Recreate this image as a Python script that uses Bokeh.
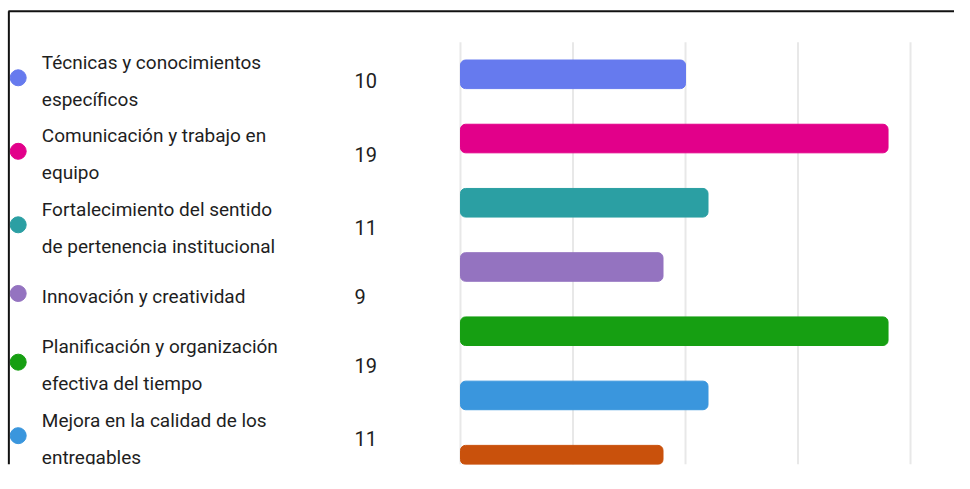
from bokeh.plotting import figure
from bokeh.models import Range1d, ColumnDataSource
from bokeh.core.properties import value
from bokeh.embed import file_html
from bokeh.resources import INLINE

# ---- data ----
labels = [
    "Técnicas y conocimientos\nespecíficos",
    "Comunicación y trabajo en\nequipo",
    "Fortalecimiento del sentido\nde pertenencia institucional",
    "Innovación y creatividad",
    "Planificación y organización\nefectiva del tiempo",
    "Mejora en la calidad de los\nentregables",
]
counts = [10, 19, 11, 9, 19, 11, 9]
colors = ["#667aee", "#e2008a", "#2b9fa3", "#9473c0", "#169f12", "#3a96dd", "#c9510c"]
ticks = [0, 5, 10, 15, 20]

# ---- layout (reference pixels scaled into the figure) ----
W, H = 954, 473
FS_X, FS_Y = W / 970, H / 489
FRAME_H = 464
KX = 22.88 * FS_X          # px per unit
KY = 66.4 * FS_Y           # px per category
ZERO_PX = 467.7 * FS_X     # pixel of value 0
TOP_Y = -(76.3 * FS_Y) / KY

x0 = -ZERO_PX / KX
x1 = x0 + W / KX
y_top = TOP_Y
y_bot = TOP_Y + FRAME_H / KY

def sx(ref_px):
    return x0 + ref_px * FS_X / KX

def sy(ref_px):
    return y_top + ref_px * FS_Y / KY

p = figure(width=W, height=H, output_backend="svg", toolbar_location=None,
           x_range=Range1d(x0, x1), y_range=Range1d(y_bot, y_top),
           min_border_left=0, min_border_right=0, min_border_top=0,
           min_border_bottom=H - FRAME_H, outline_line_color=None)
p.axis.visible = False
p.grid.visible = False
p.background_fill_color = "white"
p.border_fill_color = "white"

# gridlines
p.segment(x0=ticks, x1=ticks, y0=[-0.5] * len(ticks), y1=[y_bot] * len(ticks),
          line_color="#e8e8e8", line_width=2)

# bars
idx = list(range(len(counts)))
src = ColumnDataSource(dict(y=idx, right=counts, color=colors))
p.hbar(y="y", left=0, right="right", height=0.445, source=src,
       fill_color="color", line_color="color", line_width=1, border_radius=5)

# legend list (left side)
ycent = []
cur = 45.0
for lab in labels:
    h = 76.0 if "\n" in lab else 66.0
    ycent.append(sy(cur + h / 2))
    cur += h

n = len(labels)
leg = ColumnDataSource(dict(
    y=ycent,
    ydot=[v - 3 / KY for v in ycent],
    label=labels,
    num=[str(c) for c in counts[:n]],
    color=colors[:n],
    xt=[sx(42)] * n,
    xd=[sx(18)] * n,
    xn=[sx(360)] * n,
))
p.scatter(x="xd", y="ydot", size=16, marker="circle", fill_color="color",
          line_color="color", source=leg)
p.text(x="xt", y="y", text="label", source=leg, text_font=value("Roboto"),
       text_font_size="19px", text_color="#1e1e1e", text_baseline="middle",
       text_align="left", text_line_height=1.61)
p.text(x="xn", y="y", text="num", source=leg, text_font=value("Roboto"),
       text_font_size="20px", text_color="#1e1e1e", text_baseline="middle",
       text_align="left")

# frame lines (top and left)
p.segment(x0=[sx(8)], x1=[x1], y0=[sy(11)], y1=[sy(11)], line_color="#111111", line_width=2)
p.segment(x0=[sx(8.5)], x1=[sx(8.5)], y0=[sy(11)], y1=[y_bot], line_color="#111111", line_width=2)

open("out.html", "w").write(file_html(p, INLINE))
